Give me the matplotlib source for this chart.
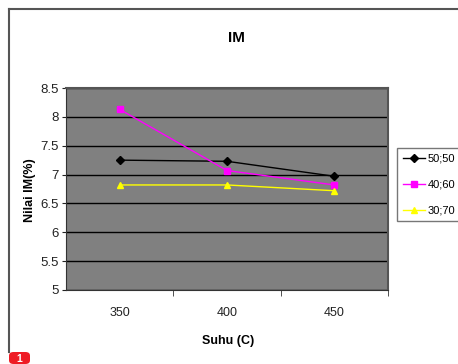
import matplotlib
matplotlib.use("Agg")
import matplotlib.pyplot as plt
from matplotlib.patches import FancyBboxPatch
from matplotlib.lines import Line2D

plt.rcParams['font.family'] = ['Liberation Sans', 'DejaVu Sans']

categories = ["350", "400", "450"]
s_50_50 = [7.25, 7.23, 6.97]
s_40_60 = [8.13, 7.07, 6.82]
s_30_70 = [6.82, 6.82, 6.72]
series_names = ["50;50", "40;60", "30;70"]
yticks = [5, 5.5, 6, 6.5, 7, 7.5, 8, 8.5]
ytick_labels = ["5", "5.5", "6", "6.5", "7", "7.5", "8", "8.5"]

W, H = 458, 364
fig = plt.figure(figsize=(W / 100, H / 100), dpi=100)

def fx(px):
    return px / W

def fy(py):
    return 1 - py / H

# outer chart frame (left and top visible)
fig.add_artist(Line2D([fx(8.5), fx(8.5)], [fy(352), fy(9)], color="#555555", lw=1.5, transform=fig.transFigure))
fig.add_artist(Line2D([fx(8.5), fx(458)], [fy(9), fy(9)], color="#555555", lw=1.5, transform=fig.transFigure))

ax = fig.add_axes([fx(66), fy(290), fx(388) - fx(66), fy(88) - fy(290)])
ax.set_facecolor("#808080")

x = [0, 1, 2]
ax.plot(x, s_50_50, color="black", lw=1, marker="D", ms=4, mfc="black", mec="black", label=series_names[0], zorder=3)
ax.plot(x, s_40_60, color="#ff00ff", lw=1, marker="s", ms=5, mfc="#ff00ff", mec="#ff00ff", label=series_names[1], zorder=3)
ax.plot(x, s_30_70, color="#ffff00", lw=1, marker="^", ms=5, mfc="#ffff00", mec="#ffff00", label=series_names[2], zorder=3)

ax.set_xlim(-0.5, 2.5)
ax.set_ylim(5, 8.5)
ax.set_yticks(yticks)
ax.set_yticklabels(ytick_labels)
ax.set_xticks(x)
ax.set_xticklabels(categories)
ax.set_xticks([0.5, 1.5, 2.5], minor=True)
ax.tick_params(axis="x", which="major", length=0, pad=12, labelsize=9, colors="#222222")
ax.tick_params(axis="x", which="minor", length=4, color="#333333")
ax.tick_params(axis="y", length=3, labelsize=9.5, colors="#222222", pad=2)
ax.yaxis.grid(True, color="black", lw=1)
ax.set_axisbelow(True)
for s in ["top", "right"]:
    ax.spines[s].set_color("#555555")
    ax.spines[s].set_linewidth(1.5)
ax.spines["left"].set_color("#333333")
ax.spines["bottom"].set_color("#333333")

fig.text(fx(236), fy(38), "IM", ha="center", va="center", fontsize=11, fontweight="bold")
fig.text(fx(30), fy(190), "Nilai IM(%)", ha="center", va="center", rotation=90, fontsize=9, fontweight="bold")
fig.text(fx(228), fy(341), "Suhu (C)", ha="center", va="center", fontsize=9, fontweight="bold")

leg = ax.legend(loc="upper left", bbox_to_anchor=(fx(397), fy(148)), bbox_transform=fig.transFigure,
                frameon=True, fancybox=False, edgecolor="#555555", fontsize=8,
                handlelength=2.0, handletextpad=0.25, labelspacing=1.45, borderpad=0.5,
                borderaxespad=0)
leg.get_frame().set_linewidth(1)

# red badge bottom-left
badge = FancyBboxPatch((fx(9), fy(364)), fx(21), fy(352) - fy(364), boxstyle="round,pad=0,rounding_size=0.01",
                       transform=fig.transFigure, facecolor="#ee1c25", edgecolor="none")
fig.add_artist(badge)
fig.text(fx(19), fy(358.5), "1", color="white", ha="center", va="center", fontsize=7.5, fontweight="bold")

fig.savefig("out.png", dpi=100)
